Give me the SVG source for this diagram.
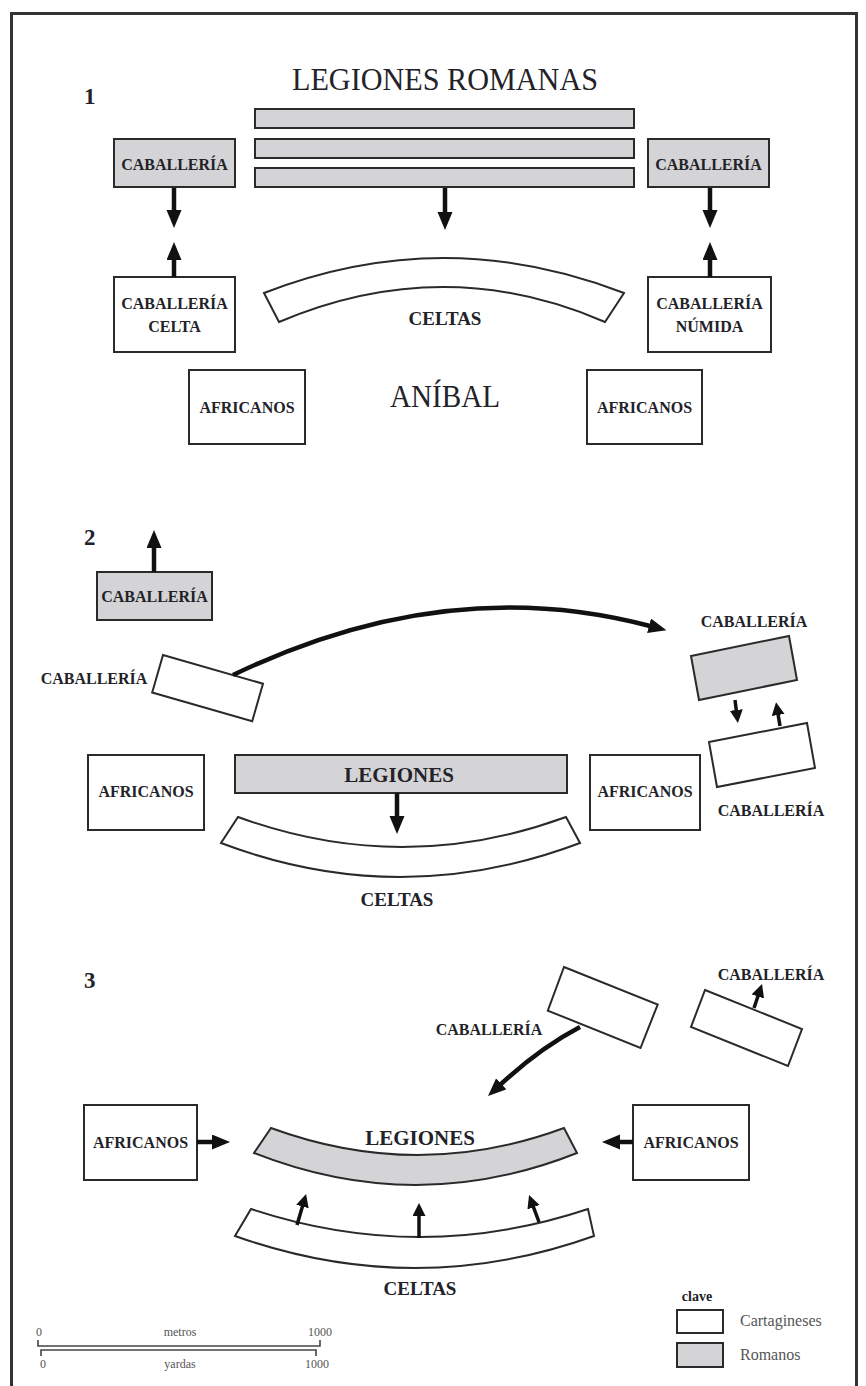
<svg xmlns="http://www.w3.org/2000/svg" width="866" height="1386" viewBox="0 0 866 1386">
<style>
text{font-family:"Liberation Serif","Times New Roman",serif;fill:#222228;text-anchor:middle}
.lb{font-weight:bold;font-size:16px}
.big{font-size:31px}
.num{font-size:23px;font-weight:bold;text-anchor:start}
.lg{font-weight:bold;font-size:21px}
.ce{font-weight:bold;font-size:19px}
.w{fill:#fff;stroke:#2a2a2a;stroke-width:2}
.g{fill:#d4d4d6;stroke:#2a2a2a;stroke-width:2}
.ar{fill:none;stroke:#111;stroke-width:4.5;marker-end:url(#ah)}
.as{fill:none;stroke:#111;stroke-width:3.5;marker-end:url(#as)}
.sc{font-size:12px;fill:#555}
.leg{font-size:16px;fill:#555;text-anchor:start}
</style>
<defs>
<marker id="ah" markerUnits="userSpaceOnUse" markerWidth="20" markerHeight="16" refX="1" refY="7.5" orient="auto"><path d="M0,0 L18,7.5 L0,15 Z" fill="#111"/></marker>
<marker id="as" markerUnits="userSpaceOnUse" markerWidth="15" markerHeight="14" refX="1" refY="6.5" orient="auto"><path d="M0,0 L13,6.5 L0,13 Z" fill="#111"/></marker>
</defs>
<rect x="0" y="0" width="866" height="1386" fill="#fff"/>
<rect x="11.5" y="13.5" width="845" height="1400" fill="none" stroke="#333" stroke-width="3"/>

<!-- Section 1 -->
<g id="s1-labels">
<text class="num" x="84" y="104">1</text>
<text class="big" x="445" y="90" textLength="306" lengthAdjust="spacingAndGlyphs">LEGIONES ROMANAS</text>
<text class="big" x="445" y="407" textLength="110" lengthAdjust="spacingAndGlyphs">ANÍBAL</text>
</g>
<g id="s1-legiones">
<rect class="g" x="255" y="109" width="379" height="19"/>
<rect class="g" x="255" y="139" width="379" height="19"/>
<rect class="g" x="255" y="168" width="379" height="19"/>
</g>
<g id="s1-cab-left"><rect class="g" x="114" y="139" width="121" height="48"/><text class="lb" x="174.5" y="170">CABALLERÍA</text></g>
<g id="s1-cab-right"><rect class="g" x="648" y="139" width="121" height="48"/><text class="lb" x="708.5" y="170">CABALLERÍA</text></g>
<g id="s1-cab-celta"><rect class="w" x="114" y="277" width="121" height="75"/><text class="lb" x="174.5" y="309">CABALLERÍA</text><text class="lb" x="174.5" y="332">CELTA</text></g>
<g id="s1-cab-numida"><rect class="w" x="648" y="277" width="123" height="75"/><text class="lb" x="709.5" y="309">CABALLERÍA</text><text class="lb" x="709.5" y="332">NÚMIDA</text></g>
<g id="s1-celtas"><path class="w" d="M264,293 Q444,223 624,293 L605,322 Q444,252 279,322 Z"/><text class="ce" x="445" y="325">CELTAS</text></g>
<g id="s1-afr-left"><rect class="w" x="189" y="370" width="116" height="74"/><text class="lb" x="247" y="413">AFRICANOS</text></g>
<g id="s1-afr-right"><rect class="w" x="587" y="370" width="115" height="74"/><text class="lb" x="644.5" y="413">AFRICANOS</text></g>

<!-- Section 2 -->
<g id="s2-labels"><text class="num" x="84" y="545">2</text></g>
<g id="s2-cab-gray"><rect class="g" x="97" y="572" width="115" height="48"/><text class="lb" x="154.5" y="602">CABALLERÍA</text></g>
<g id="s2-cab-white"><polygon class="w" points="163,655 263,683.7 252.2,721.2 152.2,692.5"/><text class="lb" x="94" y="684">CABALLERÍA</text></g>
<g id="s2-cab-right-gray"><polygon class="g" points="691,656 789,636 797,680 699,700"/><text class="lb" x="754" y="627">CABALLERÍA</text></g>
<g id="s2-cab-right-white"><polygon class="w" points="709,742 807,723 815,768 717,787"/><text class="lb" x="771" y="816">CABALLERÍA</text></g>
<g id="s2-afr-left"><rect class="w" x="88" y="755" width="116" height="75"/><text class="lb" x="146" y="797">AFRICANOS</text></g>
<g id="s2-legiones"><rect class="g" x="235" y="755" width="332" height="38"/><text class="lg" x="399" y="782">LEGIONES</text></g>
<g id="s2-afr-right"><rect class="w" x="590" y="755" width="110" height="75"/><text class="lb" x="645" y="797">AFRICANOS</text></g>
<g id="s2-celtas"><path class="w" d="M238,817 Q402,877 566,817 L580,843 Q400,911 221,843 Z"/><text class="ce" x="397" y="906">CELTAS</text></g>

<!-- Section 3 -->
<g id="s3-labels"><text class="num" x="84" y="988">3</text></g>
<g id="s3-cab-mid"><polygon class="w" points="564,967 657.7,1004.5 640.5,1048 547.8,1010.6"/><text class="lb" x="489" y="1035">CABALLERÍA</text></g>
<g id="s3-cab-right"><polygon class="w" points="705,990 802,1029 788,1066 691,1027"/><text class="lb" x="771" y="980">CABALLERÍA</text></g>
<g id="s3-afr-left"><rect class="w" x="84" y="1105" width="113" height="75"/><text class="lb" x="140.5" y="1148">AFRICANOS</text></g>
<g id="s3-afr-right"><rect class="w" x="633" y="1105" width="116" height="75"/><text class="lb" x="691" y="1148">AFRICANOS</text></g>
<g id="s3-legiones"><path class="g" d="M271,1128 Q418,1182 564,1128 L577,1153 Q416,1217 254,1153 Z"/><text class="lg" x="420" y="1145">LEGIONES</text></g>
<g id="s3-celtas"><path class="w" d="M251,1209 Q420,1265 588,1209 L594,1236 Q415,1300 235,1236 Z"/><text class="ce" x="420" y="1295">CELTAS</text></g>

<!-- Connectors -->
<g id="connectors">
<line class="ar" x1="174" y1="188" x2="174" y2="211"/>
<line class="ar" x1="174" y1="277" x2="174" y2="259"/>
<line class="ar" x1="445" y1="188" x2="445" y2="213"/>
<line class="ar" x1="710" y1="188" x2="710" y2="211"/>
<line class="ar" x1="710" y1="277" x2="710" y2="259"/>
<line class="ar" x1="154" y1="572" x2="154" y2="547"/>
<path class="ar" d="M233,675 Q447,572 650,626"/>
<line class="as" x1="735" y1="700" x2="736.4" y2="711"/>
<line class="as" x1="780" y1="726" x2="778" y2="714"/>
<line class="ar" x1="397" y1="793" x2="397" y2="817"/>
<path class="ar" d="M580,1027 Q540,1048 500.5,1084.5"/>
<line class="as" x1="754" y1="1008" x2="758.2" y2="995.5"/>
<line class="ar" x1="197" y1="1142" x2="213" y2="1142"/>
<line class="ar" x1="633" y1="1142" x2="619" y2="1142"/>
<line class="as" x1="297" y1="1225" x2="302.7" y2="1205.5"/>
<line class="as" x1="419" y1="1238" x2="419" y2="1215"/>
<line class="as" x1="539" y1="1222" x2="533.2" y2="1206.3"/>
</g>

<!-- Scale -->
<g id="scale">
<text class="sc" x="39" y="1336">0</text>
<text class="sc" x="180" y="1336">metros</text>
<text class="sc" x="320" y="1336">1000</text>
<path d="M38,1340 V1346 H320 V1340" fill="none" stroke="#444" stroke-width="1.6"/>
<path d="M41,1356 V1350 H316 V1356" fill="none" stroke="#444" stroke-width="1.6"/>
<text class="sc" x="43" y="1368">0</text>
<text class="sc" x="180" y="1368">yardas</text>
<text class="sc" x="317" y="1368">1000</text>
</g>

<!-- Legend -->
<g id="legend">
<text x="697" y="1301" style="font-weight:bold;font-size:14px">clave</text>
<rect class="w" x="677" y="1310" width="46" height="23"/>
<text class="leg" x="740" y="1326">Cartagineses</text>
<rect class="g" x="677" y="1343" width="46" height="24"/>
<text class="leg" x="740" y="1360">Romanos</text>
</g>
</svg>
